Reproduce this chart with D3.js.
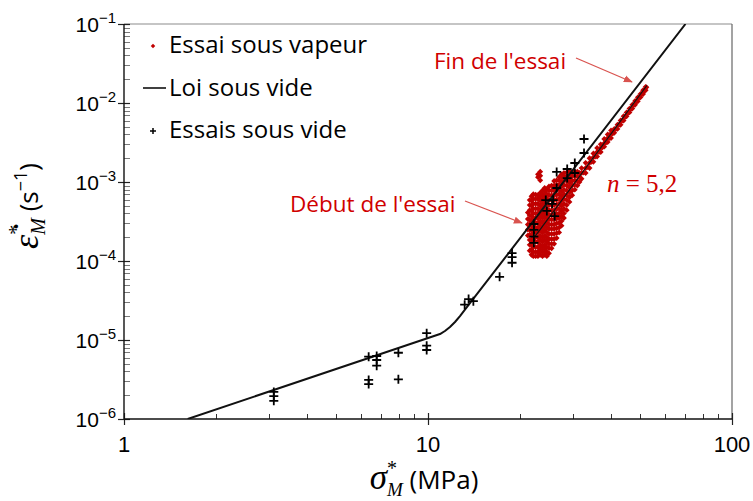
<!DOCTYPE html>
<html><head><meta charset="utf-8">
<script src="https://cdn.jsdelivr.net/npm/d3@7"></script>
<style>body{margin:0;background:#fff} svg{display:block}</style>
</head><body><svg id="c" width="753" height="501"></svg>
<script>
// ---- data ----
const xMajorTicks = [1, 10, 100];
const xMinorTicks = [2,3,4,5,6,7,8,9,20,30,40,50,60,70,80,90];
const yTickExps = [-1, -2, -3, -4, -5, -6];
const xTickLabels = ["1", "10", "100"];

// Loi sous vide (law in vacuum)
const loiSigma = [1.62, 10.95, 11.37, 11.81, 12.27, 12.74, 13.23, 13.74, 70.3];
const loiEps   = [1e-6, 1.19e-5, 1.30e-5, 1.46e-5, 1.69e-5, 2.01e-5, 2.43e-5, 2.92e-5, 1e-1];

// fit through steam test, n = 5,2
const fitSigma = [22.5, 52.5];
const fitEps   = [2.05e-4, 1.67e-2];

// Essais sous vide (crosses)
const videSigma = [3.11, 3.11, 3.11, 6.38, 6.38, 6.38, 6.78, 6.78, 6.78, 7.99, 7.99, 9.9, 9.9, 9.9,
  13.2, 13.6, 14.1, 17.2, 18.9, 18.9, 18.9, 22.3, 22.3, 22.3, 22.3,
  24.4, 25.8, 25.6, 24.6, 26.1, 26.5, 26.5, 28.7, 28.7, 30.4, 30.4, 32.6, 32.6];
const videEps = [2.2e-6, 1.95e-6, 1.7e-6, 6.15e-6, 3.12e-6, 2.77e-6, 6.27e-6, 5.58e-6, 4.73e-6, 6.9e-6, 3.18e-6, 1.22e-5, 8.47e-6, 7.47e-6,
  2.8e-5, 3.3e-5, 3.1e-5, 6.3e-5, 1.26e-4, 1.12e-4, 9.5e-5, 2.94e-4, 2.48e-4, 2.04e-4, 1.7e-4,
  5.9e-4, 5.9e-4, 5.3e-4, 4.3e-4, 3.7e-4, 8.4e-4, 1.34e-3, 1.46e-3, 1.12e-3, 1.74e-3, 1.3e-3, 3.5e-3, 2.33e-3];

// Essai sous vapeur : dense start of test (columns)
const vapeurBlobSigma = [21.3, 21.6, 21.9, 22.2, 22.6, 23.0, 23.4, 23.8, 24.2, 24.6, 25.0, 25.5, 26.0, 26.5, 27.0, 27.5, 28.0, 28.6, 29.2, 29.8, 30.4, 31.0];
const vapeurBlobEps = [
  [2.1e-4,2.5e-4,2.9e-4,3.4e-4,4.1e-4],
  [1.35e-4,1.6e-4,1.85e-4,2.15e-4,2.5e-4,2.9e-4,3.3e-4,3.8e-4,4.4e-4,5.1e-4,5.9e-4],
  [1.2e-4,1.4e-4,1.6e-4,1.85e-4,2.1e-4,2.45e-4,2.8e-4,3.2e-4,3.7e-4,4.3e-4,5.0e-4,5.8e-4,6.6e-4],
  [1.15e-4,1.3e-4,1.5e-4,1.75e-4,2.0e-4,2.3e-4,2.65e-4,3.05e-4,3.5e-4,4.0e-4,4.6e-4,5.3e-4,6.1e-4,7.0e-4],
  [1.15e-4,1.3e-4,1.5e-4,1.75e-4,2.0e-4,2.3e-4,2.65e-4,3.05e-4,3.5e-4,4.0e-4,4.6e-4,5.3e-4,6.1e-4,6.9e-4],
  [1.15e-4,1.3e-4,1.5e-4,1.75e-4,2.0e-4,2.3e-4,2.65e-4,3.05e-4,3.5e-4,4.0e-4,4.6e-4,5.3e-4,6.1e-4,6.8e-4,1.15e-3,1.25e-3],
  [1.2e-4,1.4e-4,1.6e-4,1.85e-4,2.1e-4,2.45e-4,2.8e-4,3.2e-4,3.7e-4,4.3e-4,5.0e-4,5.8e-4,6.6e-4,7.3e-4,1.05e-3,1.2e-3,1.35e-3],
  [1.15e-4,1.3e-4,1.5e-4,1.75e-4,2.0e-4,2.3e-4,2.65e-4,3.05e-4,3.5e-4,4.0e-4,4.6e-4,5.3e-4,6.1e-4,7.0e-4,7.8e-4],
  [1.2e-4,1.4e-4,1.6e-4,1.85e-4,2.1e-4,2.45e-4,2.8e-4,3.2e-4,3.7e-4,4.3e-4,5.0e-4,5.8e-4,6.6e-4,7.6e-4,8.4e-4],
  [1.15e-4,1.3e-4,1.5e-4,1.75e-4,2.0e-4,2.3e-4,2.65e-4,3.05e-4,3.5e-4,4.0e-4,4.6e-4,5.3e-4,6.1e-4,7.0e-4,8.1e-4],
  [1.25e-4,1.45e-4,1.65e-4,1.9e-4,2.2e-4,2.55e-4,2.9e-4,3.35e-4,3.85e-4,4.4e-4,5.1e-4,5.9e-4,6.8e-4,7.8e-4,8.8e-4],
  [1.45e-4,1.65e-4,1.9e-4,2.2e-4,2.55e-4,2.9e-4,3.35e-4,3.85e-4,4.4e-4,5.1e-4,5.9e-4,6.8e-4,7.8e-4,9.0e-4],
  [1.65e-4,1.9e-4,2.2e-4,2.55e-4,2.9e-4,3.35e-4,3.85e-4,4.4e-4,5.1e-4,5.9e-4,6.8e-4,7.8e-4,9.0e-4,1.03e-3],
  [1.95e-4,2.25e-4,2.6e-4,3.0e-4,3.45e-4,3.95e-4,4.55e-4,5.2e-4,6.0e-4,6.9e-4,8.0e-4,9.2e-4,1.05e-3],
  [2.3e-4,2.65e-4,3.05e-4,3.5e-4,4.0e-4,4.6e-4,5.3e-4,6.1e-4,7.0e-4,8.0e-4,9.2e-4,1.05e-3,1.15e-3],
  [2.8e-4,3.2e-4,3.7e-4,4.3e-4,5.0e-4,5.8e-4,6.6e-4,7.6e-4,8.8e-4,1.0e-3,1.15e-3,1.25e-3],
  [3.5e-4,4.0e-4,4.6e-4,5.3e-4,6.1e-4,7.0e-4,8.0e-4,9.2e-4,1.05e-3,1.2e-3,1.3e-3],
  [4.4e-4,5.1e-4,5.9e-4,6.8e-4,7.8e-4,9.0e-4,1.03e-3,1.18e-3,1.32e-3],
  [5.6e-4,6.4e-4,7.4e-4,8.5e-4,9.7e-4,1.1e-3,1.25e-3,1.38e-3],
  [6.8e-4,7.8e-4,9.0e-4,1.03e-3,1.18e-3,1.32e-3],
  [8.0e-4,9.2e-4,1.05e-3,1.2e-3,1.35e-3],
  [9.0e-4,1.03e-3,1.18e-3,1.35e-3]
];

// Essai sous vapeur : band up to end of test
const vapeurBandSigma = [31.5,31.5,31.5, 32,32,32, 32.5, 33,33,33, 33.5, 34,34,34, 34.5, 35,35,35, 35.5, 36,36,36, 36.5,
  37,37,37, 37.5, 38,38,38, 38.5, 39,39,39, 39.5, 40,40,40, 40.5, 41,41, 41.5, 42,42, 42.5, 43,43, 43.5,
  44,44, 44.5, 45,45, 45.5, 46,46, 46.5, 47,47, 47.5, 48,48, 48.5, 49,49, 49.5, 50,50, 50.5, 51,51, 51.5, 52,52, 52.3];
const vapeurBandEps = [1.0e-3,1.15e-3,1.3e-3, 1.1e-3,1.3e-3,1.5e-3, 1.32e-3, 1.3e-3,1.5e-3,1.75e-3, 1.55e-3, 1.5e-3,1.75e-3,2.0e-3, 1.8e-3,
  1.8e-3,2.05e-3,2.3e-3, 2.1e-3, 2.1e-3,2.4e-3,2.7e-3, 2.4e-3, 2.4e-3,2.7e-3,3.0e-3, 2.75e-3, 2.8e-3,3.1e-3,3.5e-3, 3.15e-3,
  3.2e-3,3.6e-3,4.0e-3, 3.6e-3, 3.6e-3,4.1e-3,4.5e-3, 4.1e-3, 4.2e-3,4.7e-3, 4.7e-3, 4.7e-3,5.3e-3, 5.3e-3, 5.3e-3,6.0e-3, 6.0e-3,
  6.0e-3,6.8e-3, 6.7e-3, 6.8e-3,7.6e-3, 7.5e-3, 7.6e-3,8.5e-3, 8.4e-3, 8.5e-3,9.5e-3, 9.4e-3, 9.5e-3,1.06e-2, 1.05e-2,
  1.05e-2,1.18e-2, 1.17e-2, 1.18e-2,1.3e-2, 1.3e-2, 1.3e-2,1.45e-2, 1.43e-2, 1.45e-2,1.6e-2, 1.58e-2];

const legendLabels = ["Essai sous vapeur", "Loi sous vide", "Essais sous vide"];

// ---- drawing ----
const svg = d3.select("#c");
const L = 124, R = 732, T = 24, B = 419;
const x = d3.scaleLog().domain([1, 100]).range([L, R]);
const y = d3.scaleLog().domain([1e-6, 1e-1]).range([B, T]);
const RED = "#c00000", TXTRED = "#d00000", ARROW = "#d9534f";
const sans = "'Open Sans', sans-serif";
const arial = "'Liberation Sans', Arial, sans-serif";
const serif = "'Liberation Serif', 'DejaVu Serif', serif";

const defs = svg.append("defs");
defs.append("clipPath").attr("id", "clip")
  .append("rect").attr("x", L).attr("y", T).attr("width", R - L).attr("height", B - T);
defs.append("marker").attr("id", "arr").attr("viewBox", "0 0 10 10").attr("refX", 9).attr("refY", 5)
  .attr("markerWidth", 9).attr("markerHeight", 9).attr("orient", "auto").attr("markerUnits", "userSpaceOnUse")
  .append("path").attr("d", "M0,1 L10,5 L0,9 Z").attr("fill", ARROW);

// frame
svg.append("line").attr("x1", L).attr("x2", R).attr("y1", T).attr("y2", T).attr("stroke", "#8c8c8c").attr("stroke-width", 1.2);
svg.append("line").attr("x1", R).attr("x2", R).attr("y1", T).attr("y2", B).attr("stroke", "#666").attr("stroke-width", 1.2);

// minor ticks
const yMinor = [];
yTickExps.forEach(e => { if (e < -1) for (let k = 2; k <= 9; k++) yMinor.push(k * Math.pow(10, e)); });
svg.append("g").selectAll("line").data(yMinor).join("line")
  .attr("x1", L).attr("x2", L + 6).attr("y1", d => Math.round(y(d)) + 0.5).attr("y2", d => Math.round(y(d)) + 0.5)
  .attr("stroke", "#7a7a7a").attr("stroke-width", 1);
svg.append("g").selectAll("line").data(xMinorTicks).join("line")
  .attr("x1", d => Math.round(x(d)) + 0.5).attr("x2", d => Math.round(x(d)) + 0.5).attr("y1", B).attr("y2", B - 5)
  .attr("stroke", "#333").attr("stroke-width", 1);

// major ticks
svg.append("g").selectAll("line").data(yTickExps).join("line")
  .attr("x1", L - 6).attr("x2", L + 6).attr("y1", e => Math.round(y(Math.pow(10, e))) + 0.5).attr("y2", e => Math.round(y(Math.pow(10, e))) + 0.5)
  .attr("stroke", "#222").attr("stroke-width", 1.2);
svg.append("g").selectAll("line").data(xMajorTicks).join("line")
  .attr("x1", d => Math.round(x(d)) + 0.5).attr("x2", d => Math.round(x(d)) + 0.5).attr("y1", B - 6).attr("y2", B + 6)
  .attr("stroke", "#222").attr("stroke-width", 1.2);

// axis lines
svg.append("line").attr("x1", L).attr("x2", L).attr("y1", T).attr("y2", B).attr("stroke", "#111").attr("stroke-width", 1.4);
svg.append("line").attr("x1", L).attr("x2", R).attr("y1", B).attr("y2", B).attr("stroke", "#111").attr("stroke-width", 1.4);

// tick labels
yTickExps.forEach(e => {
  const t = svg.append("text").attr("x", 116).attr("y", y(Math.pow(10, e)) + 8)
    .attr("text-anchor", "end").attr("font-family", arial).attr("font-size", 21).attr("fill", "#000");
  t.append("tspan").text("10");
  t.append("tspan").attr("font-size", 15).attr("dy", -9).text("\u2212" + (-e));
});
xMajorTicks.forEach((v, i) => {
  svg.append("text").attr("x", x(v)).attr("y", 452).attr("text-anchor", "middle")
    .attr("font-family", arial).attr("font-size", 22).attr("fill", "#000").text(xTickLabels[i]);
});

// axis titles
{
  const t = svg.append("text").attr("x", 424).attr("y", 489).attr("text-anchor", "middle").attr("fill", "#000");
  t.append("tspan").attr("font-family", serif).attr("font-style", "italic").attr("font-size", 35).text("\u03C3");
  t.append("tspan").attr("font-family", serif).attr("font-size", 20).attr("dy", -14).text("*");
  t.append("tspan").attr("font-family", serif).attr("font-style", "italic").attr("font-size", 19).attr("dx", -10).attr("dy", 21).text("M");
  t.append("tspan").attr("font-family", sans).attr("font-size", 26).attr("dy", -7).text(" (MPa)");
}
{
  const t = svg.append("text").attr("transform", "translate(38,206) rotate(-90)").attr("text-anchor", "middle").attr("fill", "#000");
  t.append("tspan").attr("font-family", serif).attr("font-style", "italic").attr("font-size", 36).text("\u03B5\u0307");
  t.append("tspan").attr("font-family", serif).attr("font-size", 20).attr("dy", -15).text("*");
  t.append("tspan").attr("font-family", serif).attr("font-style", "italic").attr("font-size", 20).attr("dx", -10).attr("dy", 22).text("M");
  t.append("tspan").attr("font-family", sans).attr("font-size", 26).attr("dy", -7).text(" (s");
  t.append("tspan").attr("font-family", sans).attr("font-size", 18).attr("dy", -11).text("\u22121");
  t.append("tspan").attr("font-family", sans).attr("font-size", 26).attr("dy", 11).text(")");
}

// plot content
const plot = svg.append("g").attr("clip-path", "url(#clip)");

// red points
const redPts = [];
vapeurBlobSigma.forEach((s, i) => vapeurBlobEps[i].forEach(e => redPts.push([s, e])));
vapeurBandSigma.forEach((s, i) => redPts.push([s, vapeurBandEps[i]]));
const diamond = d3.symbol().type(d3.symbolSquare).size(17);
plot.append("g").selectAll("path").data(redPts).join("path")
  .attr("d", diamond).attr("fill", RED)
  .attr("transform", d => `translate(${x(d[0])},${y(d[1])}) rotate(45)`);

// lines
const lineGen = d3.line().x(d => x(d[0])).y(d => y(d[1]));
plot.append("path").datum(loiSigma.map((s, i) => [s, loiEps[i]]))
  .attr("d", lineGen).attr("fill", "none").attr("stroke", "#111").attr("stroke-width", 2).attr("stroke-linejoin", "round");
plot.append("path").datum(fitSigma.map((s, i) => [s, fitEps[i]]))
  .attr("d", lineGen).attr("fill", "none").attr("stroke", "#111").attr("stroke-width", 1.1);

// crosses
const crossPath = "M-4.5,0H4.5M0,-4.5V4.5";
plot.append("g").selectAll("path").data(videSigma.map((s, i) => [s, videEps[i]])).join("path")
  .attr("d", crossPath).attr("stroke", "#000").attr("stroke-width", 1.8).attr("fill", "none")
  .attr("transform", d => `translate(${x(d[0])},${y(d[1])})`);

// legend
const lg = svg.append("g");
lg.append("path").attr("d", d3.symbol().type(d3.symbolSquare).size(10)).attr("fill", RED)
  .attr("transform", "translate(153,46) rotate(45)");
lg.append("line").attr("x1", 143).attr("x2", 166).attr("y1", 88).attr("y2", 88).attr("stroke", "#111").attr("stroke-width", 1.6);
lg.append("path").attr("d", "M-3,0H3M0,-3V3").attr("stroke", "#000").attr("stroke-width", 1.5).attr("transform", "translate(153,131)");
[53, 96, 138].forEach((by, i) => {
  lg.append("text").attr("x", 169).attr("y", by).attr("font-family", sans).attr("font-size", 24).attr("fill", "#000").text(legendLabels[i]);
});

// annotations
svg.append("text").attr("x", 434).attr("y", 69).attr("font-family", sans).attr("font-size", 22.5).attr("fill", TXTRED).text("Fin de l'essai");
svg.append("line").attr("x1", 576).attr("y1", 58).attr("x2", 632).attr("y2", 82).attr("stroke", ARROW).attr("stroke-width", 1.3).attr("marker-end", "url(#arr)");
svg.append("text").attr("x", 290).attr("y", 212).attr("font-family", sans).attr("font-size", 22.5).attr("fill", TXTRED).text("D\u00E9but de l'essai");
svg.append("line").attr("x1", 465).attr("y1", 201).attr("x2", 522).attr("y2", 223).attr("stroke", ARROW).attr("stroke-width", 1.3).attr("marker-end", "url(#arr)");
{
  const t = svg.append("text").attr("x", 607).attr("y", 192).attr("fill", TXTRED).attr("font-family", serif).attr("font-size", 25);
  t.append("tspan").attr("font-style", "italic").text("n");
  t.append("tspan").text(" = 5,2");
}
</script>
</body></html>
